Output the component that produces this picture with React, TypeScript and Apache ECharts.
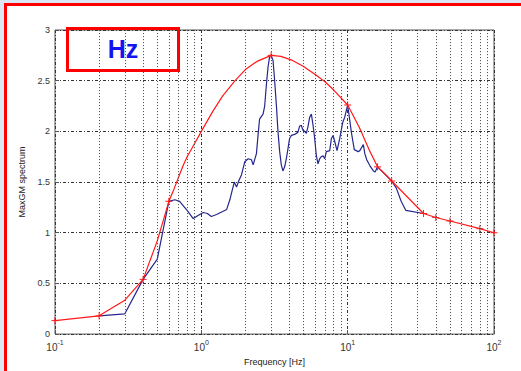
import React, { useEffect, useRef } from "react";
import * as echarts from "echarts";

// Smooth fitted envelope (red), knots in Hz and spectrum values
const redFreq = [0.1, 0.2, 0.3, 0.4, 0.5, 0.6, 0.65, 0.7, 0.75, 0.8, 0.9, 1.0, 1.2, 1.4, 1.7, 2.0, 2.4, 3.0, 3.5, 4.2, 5.0, 6.0, 7.0, 8.0, 10, 12, 14, 16, 18, 20, 33, 40, 50, 80, 100];
const redVal = [0.133, 0.18, 0.335, 0.54, 0.92, 1.31, 1.43, 1.55, 1.66, 1.75, 1.88, 2.0, 2.2, 2.35, 2.5, 2.61, 2.69, 2.75, 2.74, 2.7, 2.64, 2.56, 2.49, 2.41, 2.26, 2.04, 1.82, 1.65, 1.58, 1.51, 1.19, 1.15, 1.116, 1.04, 1.0];

// Frequencies of the envelope control points drawn with '+' markers
const markerFreq = [0.1, 0.2, 0.4, 0.6, 3.0, 10, 16, 20, 33, 40, 50, 80, 100];

// Measured spectrum (blue)
const blueFreq = [0.2, 0.3, 0.4, 0.5, 0.6, 0.66, 0.71, 0.8, 0.88, 0.95, 1.03, 1.1, 1.17, 1.27, 1.4, 1.49, 1.57, 1.62, 1.68, 1.74, 1.8, 1.88, 1.98, 2.09, 2.2, 2.26, 2.38, 2.44, 2.5, 2.64, 2.71, 2.79, 2.86, 2.93, 3.0, 3.09, 3.17, 3.26, 3.34, 3.43, 3.52, 3.61, 3.71, 3.81, 3.91, 4.01, 4.12, 4.34, 4.57, 4.69, 4.82, 4.95, 5.08, 5.22, 5.36, 5.5, 5.65, 5.8, 5.95, 6.11, 6.27, 6.44, 6.61, 6.79, 6.97, 7.15, 7.54, 7.74, 7.95, 8.16, 8.46, 8.83, 9.26, 9.55, 10.0, 10.2, 10.6, 11.1, 11.8, 12.1, 12.8, 13.1, 13.5, 14.2, 15.0, 15.4, 16.0, 20.0, 21.5, 23.2, 25.0, 33.0];
const blueVal = [0.18, 0.2, 0.54, 0.74, 1.31, 1.325, 1.31, 1.22, 1.14, 1.17, 1.2, 1.19, 1.16, 1.18, 1.21, 1.23, 1.33, 1.41, 1.5, 1.45, 1.51, 1.57, 1.7, 1.73, 1.72, 1.67, 1.78, 1.96, 2.12, 2.17, 2.25, 2.48, 2.64, 2.74, 2.75, 2.7, 2.5, 2.25, 2.0, 1.8, 1.67, 1.61, 1.65, 1.73, 1.83, 1.93, 1.96, 1.97, 1.99, 2.05, 2.06, 2.01, 2.0, 1.98, 2.05, 2.14, 2.17, 2.06, 1.93, 1.76, 1.68, 1.73, 1.75, 1.76, 1.73, 1.8, 1.81, 1.93, 1.96, 1.9, 1.81, 1.93, 2.09, 2.14, 2.26, 2.17, 1.99, 1.82, 1.8, 1.81, 1.87, 1.78, 1.72, 1.66, 1.61, 1.6, 1.65, 1.51, 1.44, 1.31, 1.22, 1.19];

// Minor log-decade grid positions
const minorGrid = [0.2, 0.3, 0.4, 0.5, 0.6, 0.7, 0.8, 0.9, 2, 3, 4, 5, 6, 7, 8, 9, 20, 30, 40, 50, 60, 70, 80, 90];

const FONT = "Liberation Sans, Arial, Helvetica, sans-serif";
const PLUS = "path://M5,0 L5,10 M0,5 L10,5";

export default function App() {
  const ref = useRef<HTMLDivElement>(null);

  useEffect(() => {
    if (!ref.current) return;
    const chart = echarts.init(ref.current, undefined, { renderer: "svg" });

    const redData = redFreq.map((f, i) =>
      markerFreq.includes(f)
        ? { value: [f, redVal[i]], symbol: PLUS, symbolSize: 7 }
        : { value: [f, redVal[i]], symbol: "none" }
    );
    const blueData = blueFreq.map((f, i) => [f, blueVal[i]]);

    chart.setOption({
      animation: false,
      backgroundColor: "transparent",
      textStyle: { fontFamily: FONT },
      grid: {
        left: 55,
        right: 27,
        top: 30,
        bottom: 33,
        show: true,
        borderColor: "#555",
        borderWidth: 1,
        backgroundColor: "transparent",
      },
      xAxis: {
        type: "log",
        logBase: 10,
        min: 0.1,
        max: 100,
        name: "Frequency [Hz]",
        nameLocation: "middle",
        nameGap: 15,
        nameTextStyle: { fontSize: 9, color: "#222", fontFamily: FONT },
        axisLine: { show: false },
        axisTick: { show: true, inside: true, length: 4, lineStyle: { color: "#555" } },
        splitLine: { show: true, lineStyle: { color: "#333", width: 1, type: [3, 2, 1, 2] } },
        axisLabel: {
          margin: 5,
          formatter: (v: number) => `{b|10}{s|${Math.round(Math.log10(v))}}`,
          rich: {
            b: { fontSize: 10, color: "#333", fontFamily: FONT, verticalAlign: "bottom", lineHeight: 13 },
            s: { fontSize: 7, color: "#333", fontFamily: FONT, verticalAlign: "top", lineHeight: 13 },
          },
        },
      },
      yAxis: {
        type: "value",
        min: 0,
        max: 3,
        interval: 0.5,
        name: "MaxGM spectrum",
        nameLocation: "middle",
        nameRotate: 90,
        nameGap: 19,
        nameTextStyle: { fontSize: 9, color: "#222", fontFamily: FONT },
        axisLine: { show: false },
        axisTick: { show: true, inside: true, length: 4, lineStyle: { color: "#555" } },
        splitLine: { show: true, lineStyle: { color: "#333", width: 1, type: [3, 2, 1, 2] } },
        axisLabel: { fontSize: 9, color: "#333", margin: 5, fontFamily: FONT },
      },
      graphic: [
        {
          type: "rect",
          shape: { x: 67.5, y: 28.5, width: 111, height: 42 },
          style: { fill: "none", stroke: "#ff0000", lineWidth: 3 },
          z: 10,
        },
        {
          type: "text",
          x: 123,
          y: 49,
          style: {
            text: "Hz",
            fill: "#1414f0",
            font: `bold 25px ${FONT}`,
            textAlign: "center",
            textVerticalAlign: "middle",
          },
          z: 10,
        },
      ],
      series: [
        {
          type: "line",
          data: [[0.1, 0], [100, 0]],
          symbol: "none",
          lineStyle: { width: 0, opacity: 0 },
          silent: true,
          z: 1,
          markLine: {
            silent: true,
            symbol: ["none", "none"],
            label: { show: false },
            lineStyle: { color: "#444", width: 1, type: [1, 2] },
            data: minorGrid.map((f) => ({ xAxis: f })),
          },
        },
        {
          type: "line",
          data: blueData,
          symbol: "none",
          lineStyle: { color: "#26268f", width: 1.2 },
          z: 3,
        },
        {
          type: "line",
          data: redData,
          lineStyle: { color: "#ff1a1a", width: 1.2 },
          itemStyle: { color: "#ff1a1a", borderColor: "#ff1a1a", borderWidth: 1 },
          z: 4,
        },
      ],
    });

    return () => chart.dispose();
  }, []);

  return (
    <div
      style={{
        position: "fixed",
        left: 0,
        top: 0,
        width: 521,
        height: 371,
        overflow: "hidden",
        background: "#dce7f4",
      }}
    >
      <div
        style={{
          position: "absolute",
          left: 4,
          top: 3,
          width: 600,
          height: 500,
          borderTop: "3px solid #ff0000",
          borderLeft: "3px solid #ff0000",
          background: "#ffffff",
        }}
      />
      <div ref={ref} style={{ position: "absolute", left: 0, top: 0, width: 521, height: 371 }} />
    </div>
  );
}
